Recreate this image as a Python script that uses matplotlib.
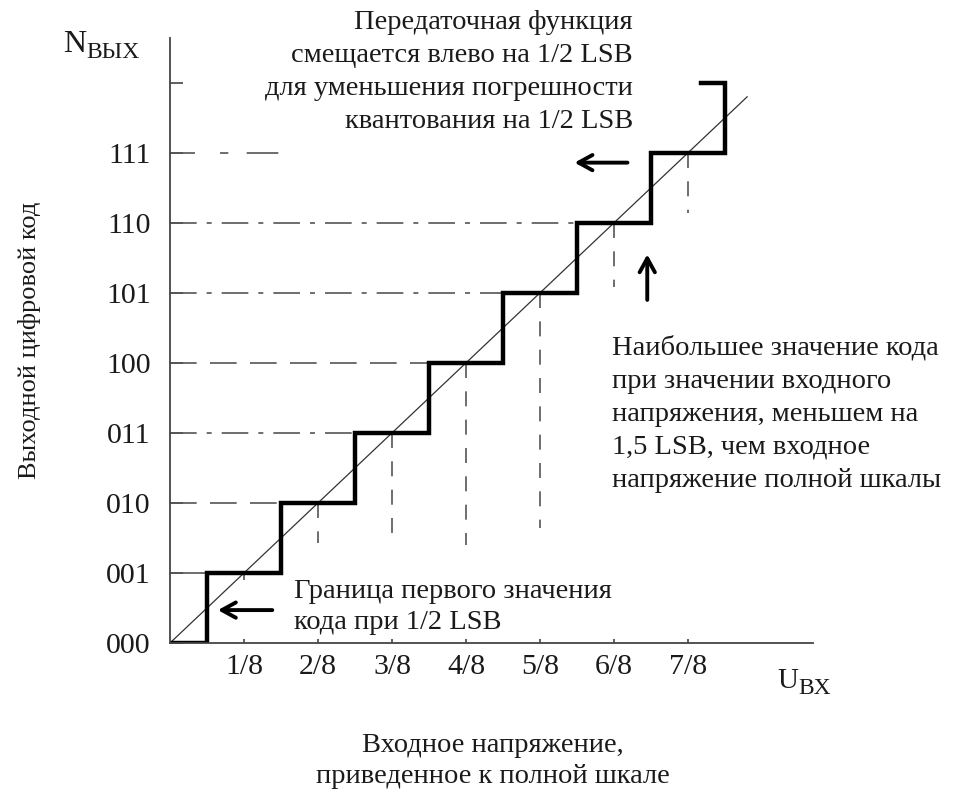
import matplotlib
matplotlib.use('Agg')
import matplotlib.pyplot as plt

plt.rcParams['font.family'] = ['Liberation Serif', 'DejaVu Serif']

# ----------------------------------- DATA ----------------------------------- #
codes = ['000', '001', '010', '011', '100', '101', '110', '111']
fractions = ['1/8', '2/8', '3/8', '4/8', '5/8', '6/8', '7/8']

# staircase transitions (in LSB) and the code reached at each one
step_x = [0.5, 1.5, 2.5, 3.5, 4.5, 5.5, 6.5, 7.5]
step_level = [1, 2, 3, 4, 5, 6, 7, 8]
top_tail_x = 7.18
ideal_end = 7.8

# horizontal guides: level and where they stop (LSB)
guide_level = [1, 2, 3, 4, 5, 6, 7]
guide_end = [0.5, 1.5, 2.5, 3.5, 4.5, 5.5, 1.5]

# vertical guides: from the ideal line down to this level
drop_x = [1, 2, 3, 4, 5, 6, 7]
drop_to = [0.9, 1.43, 1.54, 1.4, 1.64, 5.08, 6.14]

# ---------------------------------- FIGURE ---------------------------------- #
W, H = 955, 795
fig = plt.figure(figsize=(W / 100, H / 100), dpi=100)

def px(x, y):
    return x / W, 1 - y / H

ax = fig.add_axes([170 / W, 152 / H, (813 - 170) / W, (643 - 38) / H])
ax.set_xlim(0, 8.69)
ax.set_ylim(0, 8.64)
for s in ['top', 'right']:
    ax.spines[s].set_visible(False)
for s in ['left', 'bottom']:
    ax.spines[s].set_linewidth(1.3)
    ax.spines[s].set_color('#444')

txt = '#1a1a1a'
ax.set_yticks(range(9))
ax.set_yticklabels(codes + [''], fontsize=21.5, color=txt)
ax.tick_params(axis='y', direction='in', length=9, width=1.2, color='#444', pad=14)
ax.set_xticks(range(1, 8))
ax.set_xticklabels(fractions, fontsize=21.5, color=txt)
ax.tick_params(axis='x', direction='in', length=3, width=1.2, color='#444', pad=8)

# guide lines
guide_styles = ['-', (0, (16, 8)), (0, (16, 6, 3, 6)), (0, (16, 8)),
                (0, (16, 6, 3, 6)), (0, (16, 6, 3, 6)), (0, (15, 15, 5, 11, 19, 100))]
for lv, xe, ls in zip(guide_level, guide_end, guide_styles):
    ax.plot([0, xe], [lv, lv], color='#555', lw=1.2, ls=ls, dash_capstyle='butt')
for x, y0 in zip(drop_x, drop_to):
    ax.plot([x, x], [x, y0], color='#555', lw=1.2, ls=(0, (9, 8)), dash_capstyle='butt')

# ideal line
ax.plot([0, ideal_end], [0, ideal_end], color='#333', lw=0.9)

# staircase
xs, ys = [0], [0]
for x, lv in zip(step_x, step_level):
    xs += [x, x]
    ys += [ys[-1], lv]
xs.append(top_tail_x)
ys.append(step_level[-1])
ax.plot(xs, ys, color='black', lw=3.2, solid_joinstyle='miter')

# arrows
arr = dict(arrowstyle='->,head_length=1.0,head_width=0.55', lw=2.8, color='black')
ax.annotate('', xy=(5.43, 6.86), xytext=(6.22, 6.86), arrowprops=arr)
ax.annotate('', xy=(6.45, 5.59), xytext=(6.45, 4.86), arrowprops=arr)
ax.annotate('', xy=(0.61, 0.47), xytext=(1.42, 0.47), arrowprops=arr)

# texts
fig.text(*px(633, 72), 'Передаточная функция\nсмещается влево на 1/2 LSB\n'
         'для уменьшения погрешности\nквантования на 1/2 LSB',
         ha='right', va='center', multialignment='right', fontsize=20.5,
         color=txt, linespacing=1.43)
fig.text(*px(612, 414), 'Наибольшее значение кода\nпри значении входного\n'
         'напряжения, меньшем на\n1,5 LSB, чем входное\nнапряжение полной шкалы',
         ha='left', va='center', fontsize=20.5, color=txt, linespacing=1.43)
fig.text(*px(294, 607), 'Граница первого значения\nкода при 1/2 LSB',
         ha='left', va='center', fontsize=20.5, color=txt, linespacing=1.27)
fig.text(*px(493, 761), 'Входное напряжение,\nприведенное к полной шкале',
         ha='center', va='center', fontsize=20.5, color=txt, linespacing=1.35)
fig.text(*px(30, 340), 'Выходной цифровой код', rotation=90,
         ha='center', va='center', fontsize=19, color=txt)

fig.text(*px(86, 45), 'N', ha='right', va='center', fontsize=23, color=txt)
fig.text(*px(86, 53), 'ВЫХ', ha='left', va='center', fontsize=17, color=txt)
fig.text(*px(798, 681), 'U', ha='right', va='center', fontsize=21, color=txt)
fig.text(*px(798, 689), 'BX', ha='left', va='center', fontsize=17, color=txt)

fig.savefig('out.png', dpi=100, facecolor='white')
